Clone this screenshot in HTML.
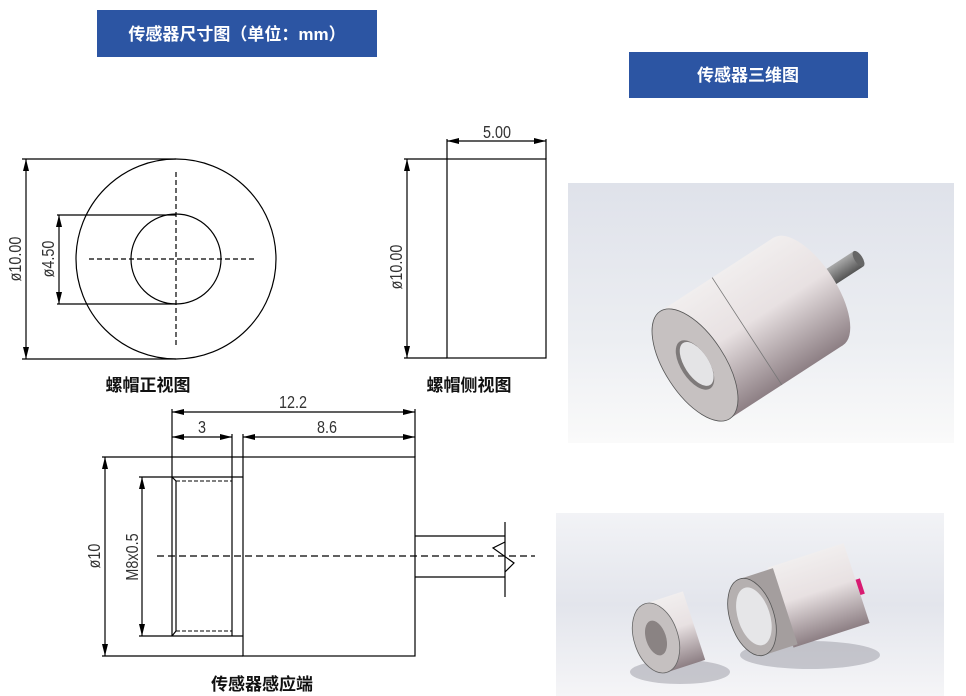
<!DOCTYPE html>
<html><head><meta charset="utf-8"><style>
html,body{margin:0;padding:0;background:#fff;}
svg{display:block;}
.cn{font-family:"Liberation Sans","Noto Sans CJK SC",sans-serif;}
</style></head><body>
<svg width="966" height="696" viewBox="0 0 966 696" xmlns="http://www.w3.org/2000/svg">
<defs>
<marker id="a" viewBox="0 0 12 6" refX="12" refY="3" markerWidth="12" markerHeight="6" orient="auto-start-reverse" markerUnits="userSpaceOnUse"><path d="M0,0 L12,3 L0,6 z" fill="#000"/></marker>
<linearGradient id="bg1" x1="0" y1="0" x2="0" y2="1"><stop offset="0" stop-color="#dfe2ea"/><stop offset="0.6" stop-color="#eceef2"/><stop offset="1" stop-color="#fafafa"/></linearGradient>
<linearGradient id="bg2" x1="0" y1="0" x2="0" y2="1"><stop offset="0" stop-color="#f2f3f6"/><stop offset="0.5" stop-color="#e3e5ec"/><stop offset="1" stop-color="#f5f5f7"/></linearGradient>
<linearGradient id="cyl" x1="0" y1="0" x2="0" y2="1"><stop offset="0" stop-color="#f1eeee"/><stop offset="0.45" stop-color="#e8e1e2"/><stop offset="1" stop-color="#8d7f84"/></linearGradient>
<linearGradient id="cab" x1="0" y1="0" x2="0" y2="1"><stop offset="0" stop-color="#aaa"/><stop offset="1" stop-color="#555"/></linearGradient>
</defs>
<rect x="97" y="10" width="280" height="47" fill="#2c55a3"/>
<text x="237" y="40" text-anchor="middle" class="cn" font-size="17" font-weight="bold" fill="#fff">传感器尺寸图（单位：mm）</text>
<rect x="629" y="52" width="239" height="46" fill="#2c55a3"/>
<text x="748" y="81" text-anchor="middle" class="cn" font-size="17" font-weight="bold" fill="#fff">传感器三维图</text>

<g stroke="#000" stroke-width="1.2" fill="none">
<circle cx="176" cy="259" r="100"/>
<circle cx="176" cy="259" r="45"/>
<line x1="89" y1="259" x2="256" y2="259" stroke-dasharray="5,3"/>
<line x1="176" y1="172" x2="176" y2="345" stroke-dasharray="5,3"/>
<line x1="22" y1="159" x2="176" y2="159"/>
<line x1="22" y1="359" x2="176" y2="359"/>
<line x1="26" y1="159" x2="26" y2="359" marker-start="url(#a)" marker-end="url(#a)"/>
<line x1="57" y1="215" x2="176" y2="215"/>
<line x1="57" y1="304" x2="176" y2="304"/>
<line x1="59" y1="215" x2="59" y2="304" marker-start="url(#a)" marker-end="url(#a)"/>
<rect x="447" y="159" width="99" height="199"/>
<line x1="404" y1="159" x2="447" y2="159"/>
<line x1="404" y1="358" x2="447" y2="358"/>
<line x1="407" y1="159" x2="407" y2="358" marker-start="url(#a)" marker-end="url(#a)"/>
<line x1="447" y1="139" x2="447" y2="159"/>
<line x1="546" y1="139" x2="546" y2="159"/>
<line x1="447" y1="141" x2="546" y2="141" marker-start="url(#a)" marker-end="url(#a)"/>
<rect x="243" y="457" width="172" height="199"/>
<line x1="102" y1="457" x2="243" y2="457"/>
<line x1="102" y1="656" x2="243" y2="656"/>
<line x1="105" y1="457" x2="105" y2="656" marker-start="url(#a)" marker-end="url(#a)"/>
<line x1="172" y1="409" x2="172" y2="636"/>
<line x1="232" y1="434" x2="232" y2="636"/>
<line x1="243" y1="434" x2="243" y2="457"/>
<line x1="415" y1="409" x2="415" y2="457"/>
<line x1="172" y1="412" x2="415" y2="412" marker-start="url(#a)" marker-end="url(#a)"/>
<line x1="172" y1="437" x2="232" y2="437" marker-start="url(#a)" marker-end="url(#a)"/>
<line x1="243" y1="437" x2="415" y2="437" marker-start="url(#a)" marker-end="url(#a)"/>
<line x1="139" y1="477" x2="243" y2="477"/>
<line x1="139" y1="636" x2="243" y2="636"/>
<line x1="142" y1="477" x2="142" y2="636" marker-start="url(#a)" marker-end="url(#a)"/>
<line x1="176" y1="481" x2="176" y2="631"/>
<line x1="172" y1="477" x2="176" y2="481"/>
<line x1="172" y1="636" x2="176" y2="631"/>
<line x1="176" y1="481" x2="232" y2="481" stroke-dasharray="4,2" stroke-width="0.9"/>
<line x1="176" y1="631" x2="232" y2="631" stroke-dasharray="4,2" stroke-width="0.9"/>
<line x1="415" y1="536" x2="505" y2="536"/>
<line x1="415" y1="577" x2="505" y2="577"/>
<line x1="505" y1="522" x2="505" y2="597"/>
<polyline points="505,542 493,548 514,563 505,572"/>
<line x1="157" y1="556" x2="535" y2="556" stroke-dasharray="7,4"/>
</g>
<g font-family="Liberation Sans, sans-serif" fill="#333" font-size="18">
<text transform="translate(497,138) scale(0.8,1)" text-anchor="middle">5.00</text>
<text transform="translate(293,408) scale(0.8,1)" text-anchor="middle">12.2</text>
<text transform="translate(202,433) scale(0.8,1)" text-anchor="middle">3</text>
<text transform="translate(327,433) scale(0.8,1)" text-anchor="middle">8.6</text>
<text transform="translate(21,259) rotate(-90) scale(0.8,1)" text-anchor="middle">ø10.00</text>
<text transform="translate(54,259) rotate(-90) scale(0.8,1)" text-anchor="middle">ø4.50</text>
<text transform="translate(402,267) rotate(-90) scale(0.8,1)" text-anchor="middle">ø10.00</text>
<text transform="translate(100,556) rotate(-90) scale(0.8,1)" text-anchor="middle">ø10</text>
<text transform="translate(138,557) rotate(-90) scale(0.8,1)" text-anchor="middle">M8x0.5</text>
</g>
<g class="cn" font-size="17" fill="#111" font-weight="bold">
<text x="148" y="391" text-anchor="middle">螺帽正视图</text>
<text x="469" y="391" text-anchor="middle">螺帽侧视图</text>
<text x="262" y="690" text-anchor="middle">传感器感应端</text>
</g>

<rect x="568" y="183" width="386" height="260" fill="url(#bg1)"/>
<g transform="translate(695,365) rotate(-33)">
<rect x="120" y="-9" width="75" height="18" fill="url(#cab)"/>
<ellipse cx="195" cy="0" rx="4" ry="9" fill="#666"/>
<rect x="0" y="-64" width="135" height="128" fill="url(#cyl)"/>
<ellipse cx="135" cy="0" rx="28" ry="64" fill="url(#cyl)"/>
<line x1="62" y1="-64" x2="62" y2="64" stroke="#777" stroke-width="0.8"/>
<ellipse cx="0" cy="0" rx="30" ry="64" fill="#c6c1c1" stroke="#555" stroke-width="0.8"/>
<ellipse cx="0" cy="0" rx="14" ry="28" fill="#7e7a7a"/>
<ellipse cx="2" cy="0" rx="12" ry="25" fill="#e4e4e6"/>
</g>
<rect x="556" y="513" width="388" height="183" fill="url(#bg2)"/>
<ellipse cx="680" cy="672" rx="50" ry="12" fill="#9a9aa4" opacity="0.5"/>
<ellipse cx="810" cy="655" rx="70" ry="14" fill="#9a9aa4" opacity="0.5"/>
<g transform="translate(850,590) rotate(-18)"><rect x="-5" y="-8" width="18" height="16" fill="#d81b72"/></g>
<g transform="translate(656,638) rotate(-18)">
<rect x="0" y="-36" width="40" height="72" fill="url(#cyl)"/>
<ellipse cx="0" cy="0" rx="22" ry="36" fill="#c5c0c0" stroke="#666" stroke-width="0.8"/>
<ellipse cx="0" cy="0" rx="10" ry="18" fill="#8a8383"/>
</g>
<g transform="translate(752,617) rotate(-18)">
<rect x="30" y="-42" width="80" height="84" fill="url(#cyl)"/>
<rect x="0" y="-40" width="35" height="80" fill="#a49e9e"/>
<ellipse cx="0" cy="0" rx="22" ry="40" fill="#b5b0b0" stroke="#555" stroke-width="0.8"/>
<ellipse cx="2" cy="0" rx="16" ry="30" fill="#e6e6e8"/>
</g>
</svg>
</body></html>
